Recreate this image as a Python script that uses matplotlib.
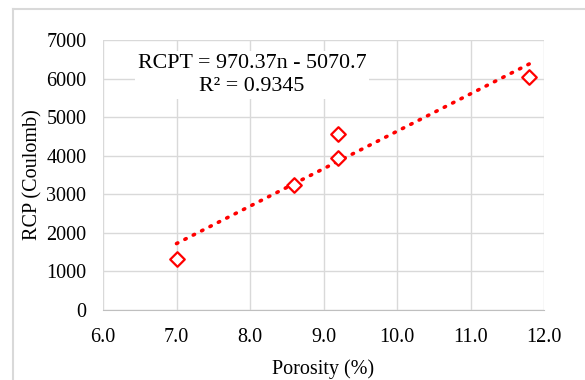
import matplotlib.pyplot as plt
import numpy as np

# porosity vs rapid chloride penetration
porosity = [7.0, 8.6, 9.2, 9.2, 11.8]
rcp = [1310, 3250, 3940, 4570, 6030]

slope = 970.37
intercept = -5070.7
r2 = 0.9345

plt.rcParams['font.family'] = ['Liberation Serif', 'DejaVu Serif']

fig = plt.figure(figsize=(5.85, 3.8), dpi=100)
ax = fig.add_axes([103/585, 1 - 310/380, 441/585, 270/380])

# trend line over the data range
xt = np.linspace(min(porosity), max(porosity), 50)
ax.plot(xt, slope * xt + intercept, color='red', lw=2.6, ls=(0, (0.4, 2.2)),
        dash_capstyle='round', zorder=3)

ax.scatter(porosity, rcp, marker='D', s=55, facecolors='white',
           edgecolors='red', linewidths=1.6, zorder=4)

ax.set_xlim(6.0, 12.0)
ax.set_ylim(0, 7000)
ax.set_xticks(np.arange(6.0, 12.01, 1.0))
ax.set_xticklabels([f"{v:.1f}" for v in np.arange(6.0, 12.01, 1.0)])
ax.set_yticks(range(0, 7001, 1000))
ax.grid(True, color='#d9d9d9', lw=1.0)
ax.set_axisbelow(True)
for s in ['top', 'right', 'left']:
    ax.spines[s].set_visible(False)
ax.spines['bottom'].set_color('#bfbfbf')
ax.tick_params(length=0, labelsize=14.5)
ax.tick_params(axis='x', pad=13)
ax.tick_params(axis='y', pad=12)

ax.set_xlabel('Porosity (%)', fontsize=14.5, labelpad=9)
ax.set_ylabel('RCP (Coulomb)', fontsize=14.5, labelpad=3)

ax.text((252 - 103) / 441, (310 - 75) / 270,
        f"RCPT = {slope}n - {abs(intercept)}\nR² = {r2}",
        transform=ax.transAxes, ha='center', va='center', fontsize=15.8,
        linespacing=1.3,
        bbox=dict(facecolor='white', edgecolor='none', pad=2))

# outer chart border
fig.add_artist(plt.Line2D([13/585, 13/585], [0, 1 - 9/380],
                          transform=fig.transFigure, color='#d9d9d9', lw=1.5))
fig.add_artist(plt.Line2D([13/585, 1], [1 - 9/380, 1 - 9/380],
                          transform=fig.transFigure, color='#d9d9d9', lw=1.5))

fig.savefig('out.png', dpi=100)
